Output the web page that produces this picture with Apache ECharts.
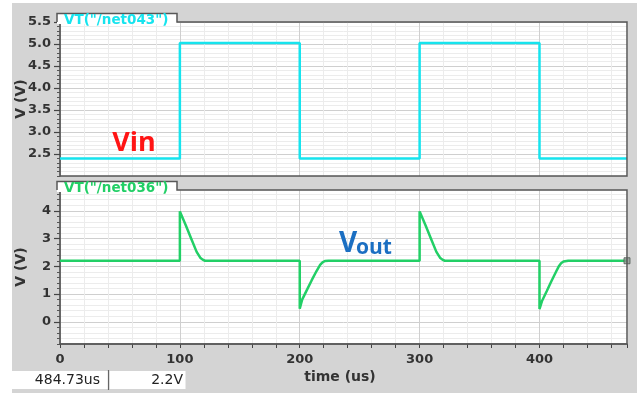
<!DOCTYPE html>
<html>
<head>
<meta charset="utf-8">
<script src="https://cdn.jsdelivr.net/npm/echarts@6/dist/echarts.min.js"></script>
<style>
  html, body { margin: 0; padding: 0; background: #fff; width: 637px; height: 396px; overflow: hidden; }
  #main { position: absolute; left: 12px; top: 3px; width: 625px; height: 390px; }
</style>
</head>
<body>
<div id="main"></div>
<script>
// Transient simulation: input square wave and the differentiated output (time in us, volts)
const vinTime = [0, 100, 100, 200, 200, 300, 300, 400, 400, 473];
const vinVolt = [2.4, 2.4, 5.02, 5.02, 2.4, 2.4, 5.02, 5.02, 2.4, 2.4];

const voutTime = [0, 100, 100, 105, 110, 114, 117, 119, 121,
                  200, 200, 202, 206, 210, 214, 217, 219, 221, 224,
                  300, 300, 305, 310, 314, 317, 319, 321,
                  400, 400, 402, 406, 410, 414, 416, 418, 420, 424, 473];
const voutVolt = [2.2, 2.2, 3.98, 3.47, 2.94, 2.52, 2.31, 2.24, 2.2,
                  2.2, 0.47, 0.8, 1.15, 1.5, 1.83, 2.05, 2.14, 2.19, 2.2,
                  2.2, 3.98, 3.47, 2.94, 2.52, 2.31, 2.24, 2.2,
                  2.2, 0.46, 0.74, 1.1, 1.47, 1.82, 1.99, 2.11, 2.17, 2.2, 2.2];

const vinTicks = [2.5, 3.0, 3.5, 4.0, 4.5, 5.0, 5.5];
const voutTicks = [0, 1, 2, 3, 4];
const timeTicks = [0, 100, 200, 300, 400];

const vinName = 'VT("/net043")';
const voutName = 'VT("/net036")';
const cursorTime = '484.73us';
const cursorValue = '2.2V';

const pair = (t, v) => t.map((x, i) => [x, v[i]]);
const near = (list, v) => list.some(t => Math.abs(t - v) < 1e-6);

// panel layout inside the chart box
const L = 48, W = 567, H = 154, TOP0 = 19, TOP1 = 187;
const TAB_W = 120, TAB_H = 8.5;

const CYAN = '#16e4ee', GREEN = '#22cf66';
const MAJOR = '#cfcfcf', MINOR = '#ececec';
const FRAME = '#575757';
const labelFont = { fontFamily: 'DejaVu Sans', fontSize: 13, fontWeight: 'bold', color: '#333' };
const nameFont = { fontFamily: 'DejaVu Sans', fontSize: 14, fontWeight: 'bold', color: '#333' };

function tabFrame(top, color, text) {
  const x0 = L - 3, y0 = top - TAB_H;
  return [
    { type: 'rect', z: 90, shape: { x: x0, y: y0, width: TAB_W, height: TAB_H + 2 }, style: { fill: '#fff' } },
    { type: 'polyline', z: 95,
      shape: { points: [[x0, top], [x0, y0], [x0 + TAB_W, y0], [x0 + TAB_W, top], [L + W, top], [L + W, top + H], [L, top + H]] },
      style: { stroke: FRAME, lineWidth: 1.5, fill: null } },
    { type: 'text', z: 100, x: L + 4, y: top - 1.5,
      style: { text: text, fill: color, font: 'bold 13.5px "DejaVu Sans"', verticalAlign: 'middle' } }
  ];
}

function fineY(grid, min, max, step, ticks, gridColors, fmt) {
  return {
    gridIndex: grid, type: 'value', position: 'left', min: min, max: max, interval: step,
    axisLine: { show: true, onZero: false, lineStyle: { color: '#444', width: 1.5 } },
    axisTick: { show: true, length: 3, lineStyle: { color: '#555' } },
    axisLabel: { ...labelFont, margin: 9, formatter: v => near(ticks, v) ? fmt(v) : '' },
    splitLine: { show: true, lineStyle: { color: gridColors, width: 1 } },
    name: 'V (V)', nameLocation: 'middle', nameGap: 32, nameRotate: 90, nameMoveOverlap: false,
    nameTextStyle: nameFont
  };
}

function majorTickY(grid, min, max, ticks) {
  return {
    gridIndex: grid, type: 'value', position: 'left', min: min, max: max,
    axisLine: { show: false, onZero: false }, axisLabel: { show: false }, splitLine: { show: false },
    axisTick: { show: true, length: 6, customValues: ticks, lineStyle: { color: '#444', width: 1.2 } }
  };
}

const chart = echarts.init(document.getElementById('main'), null, { renderer: 'canvas' });

chart.setOption({
  backgroundColor: '#d4d4d4',
  animation: false,
  grid: [
    { left: L, top: TOP0, width: W, height: H, show: true, backgroundColor: '#fff', borderWidth: 0,
      containLabel: false, outerBoundsMode: 'none' },
    { left: L, top: TOP1, width: W, height: H, show: true, backgroundColor: '#fff', borderWidth: 0,
      containLabel: false, outerBoundsMode: 'none' }
  ],
  xAxis: [
    { gridIndex: 0, type: 'value', position: 'bottom', min: 0, max: 473, interval: 20,
      axisLine: { show: false, onZero: false }, axisTick: { show: false }, axisLabel: { show: false },
      splitLine: { show: true, lineStyle: { color: [MAJOR, MINOR, MINOR, MINOR, MINOR], width: 1 } } },
    { gridIndex: 1, type: 'value', position: 'bottom', min: 0, max: 473, interval: 20,
      axisLine: { show: true, onZero: false, lineStyle: { color: FRAME, width: 1.5 } },
      axisTick: { show: true, length: 4, lineStyle: { color: '#444' } },
      axisLabel: { ...labelFont, margin: 9, formatter: v => near(timeTicks, v) ? String(Math.round(v)) : '' },
      splitLine: { show: true, lineStyle: { color: [MAJOR, MINOR, MINOR, MINOR, MINOR], width: 1 } },
      name: 'time (us)', nameLocation: 'middle', nameGap: 26, nameMoveOverlap: false,
      nameTextStyle: { ...nameFont, padding: [0, 7, 0, 0] } }
  ],
  yAxis: [
    fineY(0, 2, 5.5, 0.1, vinTicks, [MAJOR, MINOR, MINOR, MINOR, MINOR], v => v.toFixed(1)),
    majorTickY(0, 2, 5.5, vinTicks),
    fineY(1, -0.8, 4.75, 0.2, voutTicks, [MINOR, MINOR, MINOR, MINOR, MAJOR], v => String(Math.round(v))),
    majorTickY(1, -0.8, 4.75, voutTicks)
  ],
  series: [
    { name: vinName, type: 'line', xAxisIndex: 0, yAxisIndex: 0, data: pair(vinTime, vinVolt),
      showSymbol: false, lineStyle: { color: CYAN, width: 2.5 }, itemStyle: { color: CYAN }, z: 5 },
    { name: voutName, type: 'line', xAxisIndex: 1, yAxisIndex: 2, data: pair(voutTime, voutVolt),
      showSymbol: false, lineStyle: { color: GREEN, width: 2.5 }, itemStyle: { color: GREEN }, z: 5 },
    { type: 'scatter', xAxisIndex: 1, yAxisIndex: 2, clip: false,
      data: [[voutTime[voutTime.length - 1], voutVolt[voutVolt.length - 1]]],
      symbol: 'rect', symbolSize: 6, itemStyle: { color: '#8f9a92', borderColor: '#4d5a52', borderWidth: 1 }, z: 6 }
  ],
  graphic: [
    ...tabFrame(TOP0, CYAN, vinName),
    ...tabFrame(TOP1, GREEN, voutName),
    { type: 'text', z: 100, x: 122, y: 140,
      style: { text: 'Vin', fill: '#ff1414', font: 'bold 27px "Open Sans"', align: 'center', verticalAlign: 'middle' } },
    { type: 'text', z: 100, x: 327, y: 241,
      style: { text: 'V', fill: '#1b6fc2', font: 'bold 28px "Open Sans"', verticalAlign: 'middle' } },
    { type: 'text', z: 100, x: 344, y: 245,
      style: { text: 'out', fill: '#1b6fc2', font: 'bold 21px "Open Sans"', verticalAlign: 'middle' } },
    // cursor readout bar
    { type: 'rect', z: 90, shape: { x: 0, y: 368, width: 96, height: 18 }, style: { fill: '#fff' } },
    { type: 'rect', z: 90, shape: { x: 97.5, y: 368, width: 76, height: 18 }, style: { fill: '#fff' } },
    { type: 'line', z: 95, shape: { x1: 96.5, y1: 367, x2: 96.5, y2: 387 }, style: { stroke: '#666', lineWidth: 1.2 } },
    { type: 'text', z: 100, x: 88, y: 377,
      style: { text: cursorTime, fill: '#222', font: '14px "DejaVu Sans"', align: 'right', verticalAlign: 'middle' } },
    { type: 'text', z: 100, x: 171, y: 377,
      style: { text: cursorValue, fill: '#222', font: '14px "DejaVu Sans"', align: 'right', verticalAlign: 'middle' } }
  ]
});
</script>
</body>
</html>
